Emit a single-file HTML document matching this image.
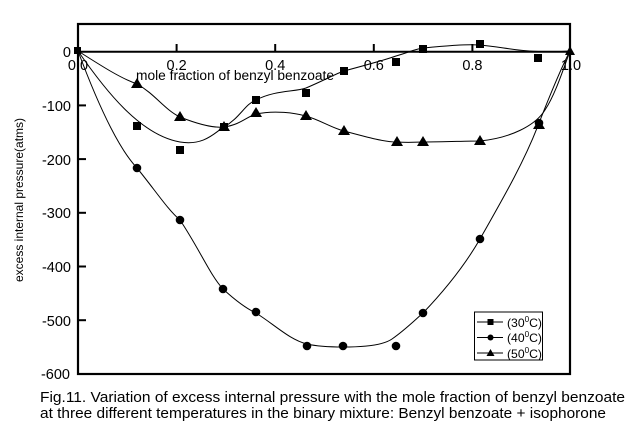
<!DOCTYPE html>
<html><head><style>
body{margin:0;background:#fff;}
svg{display:block;font-family:"Liberation Sans",Arial,sans-serif;}
</style></head><body>
<svg width="640" height="437" viewBox="0 0 640 437">
<rect x="78" y="24" width="492" height="350" fill="none" stroke="#000" stroke-width="2.2"/>
<line x1="78" y1="51.7" x2="570" y2="51.7" stroke="#000" stroke-width="2"/>
<g stroke="#000" stroke-width="2">
<line x1="176.6" y1="44" x2="176.6" y2="51.7"/><line x1="275.2" y1="44" x2="275.2" y2="51.7"/>
<line x1="373.8" y1="44" x2="373.8" y2="51.7"/><line x1="472.4" y1="44" x2="472.4" y2="51.7"/>
<line x1="78" y1="105.4" x2="86" y2="105.4"/><line x1="78" y1="159.1" x2="86" y2="159.1"/>
<line x1="78" y1="212.8" x2="86" y2="212.8"/><line x1="78" y1="266.5" x2="86" y2="266.5"/>
<line x1="78" y1="320.2" x2="86" y2="320.2"/>
</g>
<g font-size="14.5" text-anchor="end">
<text x="71" y="57">0</text><text x="71" y="111">-100</text><text x="71" y="165">-200</text>
<text x="71" y="218">-300</text><text x="71" y="272">-400</text><text x="71" y="326">-500</text><text x="70" y="379">-600</text>
</g>
<g font-size="14.5" text-anchor="middle">
<text x="78" y="70">0.0</text><text x="176.6" y="70">0.2</text><text x="275.2" y="70">0.4</text>
<text x="373.8" y="70">0.6</text><text x="472.4" y="70">0.8</text><text x="571" y="70">1.0</text>
</g>
<text x="136" y="80" font-size="13.5" textLength="198" lengthAdjust="spacingAndGlyphs">mole fraction of benzyl benzoate</text>
<text transform="translate(23,200) rotate(-90)" font-size="12" text-anchor="middle">excess internal pressure(atms)</text>
<g fill="none" stroke="#000" stroke-width="1">
<path d="M78,51 C105,90 140,135 180,142 C205,146 215,132 224,127 C240,118 245,104 256,100 C275,90 295,92 306,88 C325,80 335,74 344,71 C370,64 385,60 396,56 C410,52 415,49 423,48 C445,46 465,44 480,45 C510,48 530,54 570,51"/>
<path d="M78,51 C100,110 120,150 137,168 C155,190 168,210 180,220 C200,250 210,275 223,289 C235,300 245,308 256,313 C275,325 290,340 307,344 C320,347 335,347 343,347 C370,347 385,344 392,339 C405,330 415,320 423,313 C445,290 465,265 480,239 C505,195 525,160 539,123 C550,95 560,70 570,51"/>
<path d="M78,51 C100,65 120,78 137,84 C155,94 165,110 180,117 C200,125 215,128 224,127 C240,125 248,116 256,114 C275,110 295,113 306,116 C320,120 332,128 344,131 C370,138 385,142 397,142 C410,143 418,142 423,142 C445,142 465,141 480,141 C510,138 535,126 545,110 C555,95 563,70 570,51"/>
</g>
<g fill="#000">
<rect x="133" y="122" width="8" height="8"/><rect x="176" y="146" width="8" height="8"/><rect x="220" y="123" width="8" height="8"/>
<rect x="252" y="96" width="8" height="8"/><rect x="302" y="89" width="8" height="8"/><rect x="340" y="67" width="8" height="8"/>
<rect x="392" y="58" width="8" height="8"/><rect x="419" y="45" width="8" height="8"/><rect x="476" y="40" width="8" height="8"/>
<rect x="534" y="54" width="8" height="8"/><rect x="74" y="47" width="7" height="7"/>
<circle cx="137" cy="168" r="4.3"/><circle cx="180" cy="220" r="4.3"/><circle cx="223" cy="289" r="4.3"/>
<circle cx="256" cy="312" r="4.3"/><circle cx="307" cy="346" r="4.3"/><circle cx="343" cy="346" r="4.3"/>
<circle cx="396" cy="346" r="4.3"/><circle cx="423" cy="313" r="4.3"/><circle cx="480" cy="239" r="4.3"/>
<circle cx="539" cy="123" r="4.3"/>
<g>
<polygon points="137,78 131,88 143,88"/><polygon points="180,111 174,121 186,121"/><polygon points="224,121 218,131 230,131"/>
<polygon points="256,107 250,117 262,117"/><polygon points="306,110 300,120 312,120"/><polygon points="344,125 338,135 350,135"/>
<polygon points="397,136 391,146 403,146"/><polygon points="423,136 417,146 429,146"/><polygon points="480,135 474,145 486,145"/>
<polygon points="539,119 533,129 545,129"/><polygon points="570,46 565,55 575,55"/>
</g>
</g>
<rect x="474.5" y="312" width="68" height="48" fill="#fff" stroke="#000" stroke-width="1"/>
<g stroke="#000"><line x1="477" y1="322" x2="503" y2="322"/><line x1="477" y1="337.5" x2="503" y2="337.5"/><line x1="477" y1="353" x2="503" y2="353"/></g>
<rect x="487.5" y="319" width="6" height="6"/><circle cx="490.5" cy="337.5" r="3"/><polygon points="490.5,349 486.5,356 494.5,356"/>
<g font-size="12">
<text x="507" y="327" textLength="35" lengthAdjust="spacingAndGlyphs">(30<tspan font-size="8" dy="-5">0</tspan><tspan dy="5">C)</tspan></text>
<text x="507" y="342" textLength="35" lengthAdjust="spacingAndGlyphs">(40<tspan font-size="8" dy="-5">0</tspan><tspan dy="5">C)</tspan></text>
<text x="507" y="358" textLength="35" lengthAdjust="spacingAndGlyphs">(50<tspan font-size="8" dy="-5">0</tspan><tspan dy="5">C)</tspan></text>
</g>
<text x="40" y="402" font-size="14.5" textLength="585" lengthAdjust="spacingAndGlyphs">Fig.11. Variation of excess internal pressure with the mole fraction of benzyl benzoate</text>
<text x="40" y="418" font-size="14.5" textLength="566" lengthAdjust="spacingAndGlyphs">at three different temperatures in the binary mixture: Benzyl benzoate + isophorone</text>
</svg>
</body></html>
